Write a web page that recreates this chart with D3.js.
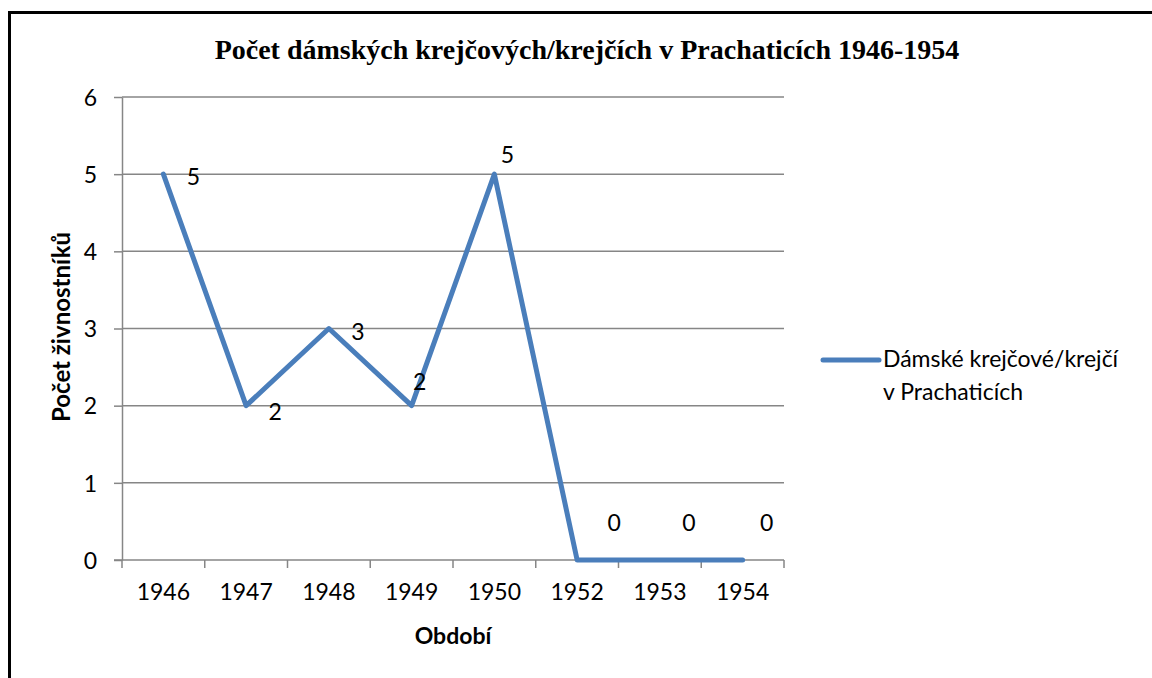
<!DOCTYPE html>
<html>
<head>
<meta charset="utf-8">
<script src="https://cdn.jsdelivr.net/npm/d3@7"></script>
<style>
  body { margin: 0; background: #fff; }
  text { font-family: Lato, "Open Sans", sans-serif; fill: #000; }
</style>
</head>
<body>
<div id="chart"></div>
<script>
const years = ['1946', '1947', '1948', '1949', '1950', '1952', '1953', '1954'];
const counts = [5, 2, 3, 2, 5, 0, 0, 0];
const yTicks = [0, 1, 2, 3, 4, 5, 6];
const seriesName = ['Dámské krejčové/krejčí', 'v Prachaticích'];
const chartTitle = 'Počet dámských krejčových/krejčích v Prachaticích 1946-1954';

// where Excel put each data label, relative to its point
const labelOff = [[30, 3], [29, 6], [29, 3], [8, -24], [13, -19], [37, -37], [29, -37], [24, -37]];

const colors = { line: '#4a7ebb', axis: '#868686', grid: '#868686' };

let width = 1152, height = 678;
let margin = { left: 122, right: 784, top: 97, bottom: 560 };

let svg = d3.select('#chart').append('svg')
    .attr('width', width).attr('height', height);

// outer frame (only top and left fall inside the picture)
svg.append('rect')
    .attr('x', 9.5).attr('y', 12.5)
    .attr('width', 1200).attr('height', 700)
    .attr('fill', 'none').attr('stroke', '#000').attr('stroke-width', 3);

let x = d3.scaleBand().domain(years).range([margin.left, margin.right]);
let y = d3.scaleLinear().domain([0, 6]).range([margin.bottom, margin.top]);
const cx = d => x(d) + x.bandwidth() / 2;

// grid
svg.append('g').selectAll('line').data(yTicks.filter(d => d > 0)).enter()
    .append('line')
    .attr('x1', margin.left).attr('x2', margin.right)
    .attr('y1', d => y(d)).attr('y2', d => y(d))
    .attr('stroke', colors.grid).attr('stroke-width', 1.5);

// y axis
let yAxis = svg.append('g')
    .attr('transform', `translate(${margin.left},0)`)
    .call(d3.axisLeft(y).tickValues(yTicks).tickFormat(d3.format('d'))
        .tickSize(8).tickSizeOuter(0).tickPadding(17));
yAxis.select('.domain').attr('stroke', colors.axis).attr('stroke-width', 1.5);
yAxis.selectAll('.tick line').attr('stroke', colors.axis).attr('stroke-width', 1.5);
yAxis.selectAll('.tick text').style('font-size', '23px').attr('dy', '0.36em');

// x axis
let xAxis = svg.append('g')
    .attr('transform', `translate(0,${margin.bottom})`)
    .call(d3.axisBottom(x).tickSize(0).tickSizeOuter(0).tickPadding(24));
xAxis.select('.domain').attr('stroke', colors.axis).attr('stroke-width', 1.5)
    .attr('d', `M${margin.left - 8},0H${margin.right}`);
xAxis.selectAll('.tick text').style('font-size', '23px');
xAxis.selectAll('line.bound').data(years.map(d => x(d)).concat([margin.right])).enter()
    .append('line').attr('class', 'bound')
    .attr('x1', d => d).attr('x2', d => d)
    .attr('y1', 0).attr('y2', 8)
    .attr('stroke', colors.axis).attr('stroke-width', 1.5);

// series line
let line = d3.line().x((d, i) => cx(years[i])).y(d => y(d));
svg.append('path')
    .datum(counts)
    .attr('d', line)
    .attr('fill', 'none')
    .attr('stroke', colors.line)
    .attr('stroke-width', 5)
    .attr('stroke-linejoin', 'round')
    .attr('stroke-linecap', 'round');

// data labels
svg.append('g').selectAll('text').data(counts).enter()
    .append('text')
    .attr('x', (d, i) => cx(years[i]) + labelOff[i][0])
    .attr('y', (d, i) => y(d) + labelOff[i][1])
    .attr('text-anchor', 'middle')
    .attr('dy', '0.36em')
    .style('font-size', '23px')
    .text(d => d);

// titles
svg.append('text')
    .attr('x', 587).attr('y', 59)
    .attr('text-anchor', 'middle')
    .style('font-family', '"Liberation Serif", "Times New Roman", serif')
    .style('font-weight', 'bold')
    .style('font-size', '28px')
    .text(chartTitle);

svg.append('text')
    .attr('transform', 'translate(70,327) rotate(-90)')
    .attr('text-anchor', 'middle')
    .style('font-weight', 'bold')
    .style('font-size', '24px')
    .text('Počet živnostníků');

svg.append('text')
    .attr('x', 453).attr('y', 644)
    .attr('text-anchor', 'middle')
    .style('font-weight', 'bold')
    .style('font-size', '23px')
    .text('Období');

// legend
let lg = svg.append('g').attr('transform', 'translate(823,360)');
lg.append('line')
    .attr('x1', 0).attr('x2', 56).attr('y1', 0).attr('y2', 0)
    .attr('stroke', colors.line).attr('stroke-width', 5).attr('stroke-linecap', 'round');
lg.selectAll('text').data(seriesName).enter()
    .append('text')
    .attr('x', 60).attr('y', (d, i) => 7 + i * 33)
    .style('font-size', '23px')
    .text(d => d);
</script>
</body>
</html>
